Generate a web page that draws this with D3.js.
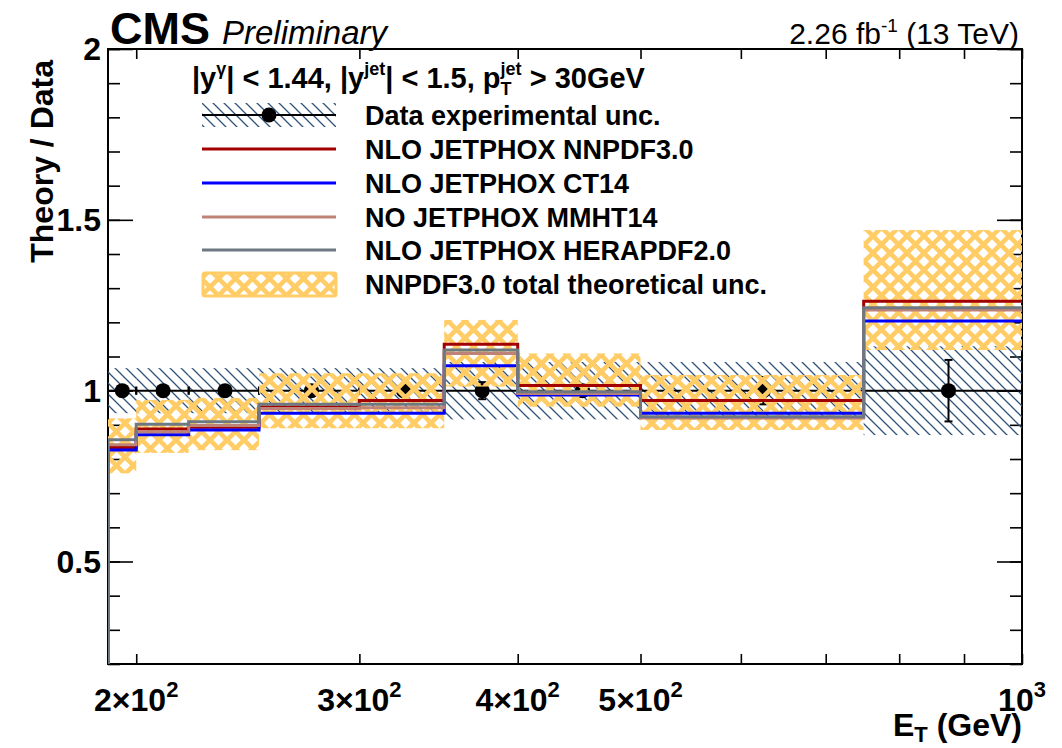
<!DOCTYPE html>
<html>
<head>
<meta charset="utf-8">
<script src="https://cdn.jsdelivr.net/npm/d3@7"></script>
<style>
  html, body { margin: 0; padding: 0; background: #ffffff; }
  svg { display: block; font-family: "Liberation Sans", Arial, Helvetica, sans-serif; }
</style>
</head>
<body>
<svg id="chart" width="1062" height="748"></svg>
<script>
// ---- data: photon + jet cross section, theory / data ratio per E_T bin ----
const binEdges = [190, 200, 220, 250, 300, 350, 400, 500, 750, 1000];
const dataRatio = [1, 1, 1, 1, 1, 1, 1, 1, 1];
const dataStatErr = [0.005, 0.006, 0.008, 0.010, 0.012, 0.025, 0.015, 0.040, 0.090];
const dataExpUnc = [0.066, 0.066, 0.066, 0.066, 0.066, 0.084, 0.084, 0.084, 0.130];

const nnpdf30 = [0.834, 0.888, 0.893, 0.952, 0.971, 1.136, 1.015, 0.971, 1.262];
const ct14 = [0.826, 0.871, 0.885, 0.934, 0.934, 1.073, 0.987, 0.934, 1.204];
const mmht14 = [0.842, 0.880, 0.898, 0.948, 0.950, 1.109, 0.992, 0.920, 1.236];
const herapdf20 = [0.856, 0.902, 0.909, 0.960, 0.960, 1.119, 0.997, 0.924, 1.243];

const nnpdfUncLow = [0.758, 0.818, 0.826, 0.890, 0.890, 1.012, 0.953, 0.885, 1.119];
const nnpdfUncHigh = [0.919, 0.973, 0.979, 1.051, 1.051, 1.207, 1.109, 1.046, 1.470];

const xTickValues = [200, 300, 400, 500, 600, 700, 800, 900, 1000];
const xTickLabels = [
  { v: 200, mant: "2\u00d710", exp: "2" },
  { v: 300, mant: "3\u00d710", exp: "2" },
  { v: 400, mant: "4\u00d710", exp: "2" },
  { v: 500, mant: "5\u00d710", exp: "2" },
  { v: 1000, mant: "10", exp: "3" }
];
const yMajorTicks = [0.5, 1, 1.5, 2];
const yMinorTicks = d3.range(2, 21).map(d => d / 10);
const yTickLabels = ["0.5", "1", "1.5", "2"];

const theorySeries = [
  { name: "NLO JETPHOX NNPDF3.0", values: nnpdf30, color: "#a30000" },
  { name: "NLO JETPHOX CT14", values: ct14, color: "#0000ff" },
  { name: "NO JETPHOX MMHT14", values: mmht14, color: "#bf8276" },
  { name: "NLO JETPHOX HERAPDF2.0", values: herapdf20, color: "#6e7882" }
];

// ---- layout ----
const svg = d3.select("#chart");
const pL = 108, pR = 1022, pT = 49, pB = 664;
const x = d3.scaleLog().domain([190, 1000]).range([pL, pR]);
const y = d3.scaleLinear().domain([0.2, 2]).range([pB, pT]);
const bins = d3.range(binEdges.length - 1);

const defs = svg.append("defs");
defs.append("clipPath").attr("id", "plotClip")
  .append("rect").attr("x", pL).attr("y", pT)
  .attr("width", pR - pL).attr("height", pB - pT);

// diagonal hatch for the experimental uncertainty
const hp = 11;
defs.append("pattern").attr("id", "expHatch")
  .attr("patternUnits", "userSpaceOnUse").attr("width", hp).attr("height", hp)
  .append("path")
  .attr("d", `M-1,-1L${hp + 1},${hp + 1}M${hp - 1},-1L${hp + 1},1M-1,${hp - 1}L1,${hp + 1}`)
  .attr("stroke", "#2f537a").attr("stroke-width", 1.3).attr("fill", "none");

// cross hatch for the theory band
const cp = 17;
defs.append("pattern").attr("id", "theoCross")
  .attr("patternUnits", "userSpaceOnUse").attr("width", cp).attr("height", cp)
  .attr("x", pL).attr("y", pT)
  .append("path")
  .attr("d", `M-3,-3L${cp + 3},${cp + 3}M${cp + 3},-3L-3,${cp + 3}`)
  .attr("stroke", "#ffcc66").attr("stroke-width", 4.6).attr("fill", "none");

// ---- frame and axes ----
const axesG = svg.append("g");
axesG.append("rect").attr("x", pL).attr("y", pT)
  .attr("width", pR - pL).attr("height", pB - pT)
  .attr("fill", "none").attr("stroke", "#000").attr("stroke-width", 2);

function styleAxis(g) {
  g.select(".domain").remove();
  g.selectAll(".tick line").attr("stroke", "#000").attr("stroke-width", 1.6);
  g.selectAll(".tick text").remove();
}
axesG.append("g").attr("transform", `translate(0,${pB})`)
  .call(d3.axisBottom(x).tickValues(xTickValues).tickSize(-10).tickFormat(""))
  .call(styleAxis);
axesG.append("g").attr("transform", `translate(0,${pT})`)
  .call(d3.axisTop(x).tickValues(xTickValues).tickSize(-10).tickFormat(""))
  .call(styleAxis);
axesG.append("g").attr("transform", `translate(${pL},0)`)
  .call(d3.axisLeft(y).tickValues(yMinorTicks).tickSize(-12).tickFormat(""))
  .call(styleAxis);
axesG.append("g").attr("transform", `translate(${pL},0)`)
  .call(d3.axisLeft(y).tickValues(yMajorTicks).tickSize(-25).tickFormat(""))
  .call(styleAxis);
axesG.append("g").attr("transform", `translate(${pR},0)`)
  .call(d3.axisRight(y).tickValues(yMinorTicks).tickSize(-12).tickFormat(""))
  .call(styleAxis);
axesG.append("g").attr("transform", `translate(${pR},0)`)
  .call(d3.axisRight(y).tickValues(yMajorTicks).tickSize(-25).tickFormat(""))
  .call(styleAxis);

// tick labels
const labFont = 32;
xTickLabels.forEach(l => {
  const t = svg.append("text").attr("x", x(l.v)).attr("y", 711)
    .attr("text-anchor", "middle").style("font-weight", "bold").style("font-size", labFont + "px");
  t.append("tspan").text(l.mant);
  t.append("tspan").attr("dy", -14).style("font-size", "22px").text(l.exp);
});
yMajorTicks.forEach((v, i) => {
  svg.append("text").attr("x", 101).attr("y", y(v) + 11)
    .attr("text-anchor", "end").style("font-weight", "bold").style("font-size", labFont + "px")
    .text(yTickLabels[i]);
});

// axis titles
svg.append("text").attr("transform", "translate(53,60) rotate(-90)")
  .attr("text-anchor", "end").style("font-weight", "bold").style("font-size", "32px")
  .text("Theory / Data");
const xt = svg.append("text").attr("x", 1022).attr("y", 736).attr("text-anchor", "end")
  .style("font-weight", "bold").style("font-size", "32px");
xt.append("tspan").text("E");
xt.append("tspan").attr("dy", 6).style("font-size", "22px").text("T");
xt.append("tspan").attr("dy", -6).text(" (GeV)");

// ---- plot content ----
const plot = svg.append("g").attr("clip-path", "url(#plotClip)");

// experimental uncertainty boxes
plot.append("g").selectAll("rect").data(bins).join("rect")
  .attr("x", i => x(binEdges[i]))
  .attr("width", i => x(binEdges[i + 1]) - x(binEdges[i]))
  .attr("y", i => y(dataRatio[i] + dataExpUnc[i]))
  .attr("height", i => y(dataRatio[i] - dataExpUnc[i]) - y(dataRatio[i] + dataExpUnc[i]))
  .attr("fill", "url(#expHatch)");

// data points with error bars
const dataG = plot.append("g").attr("stroke", "#000").attr("stroke-width", 2);
const cap = 4;
bins.forEach(i => {
  const x0 = x(binEdges[i]), x1 = x(binEdges[i + 1]);
  const xc = x((binEdges[i] + binEdges[i + 1]) / 2);
  const yc = y(dataRatio[i]);
  const ylo = y(dataRatio[i] - dataStatErr[i]), yhi = y(dataRatio[i] + dataStatErr[i]);
  dataG.append("line").attr("x1", x0).attr("x2", x1).attr("y1", yc).attr("y2", yc);
  dataG.append("line").attr("x1", x0).attr("x2", x0).attr("y1", yc - cap).attr("y2", yc + cap);
  dataG.append("line").attr("x1", x1).attr("x2", x1).attr("y1", yc - cap).attr("y2", yc + cap);
  dataG.append("line").attr("x1", xc).attr("x2", xc).attr("y1", ylo).attr("y2", yhi);
  dataG.append("line").attr("x1", xc - cap).attr("x2", xc + cap).attr("y1", ylo).attr("y2", ylo);
  dataG.append("line").attr("x1", xc - cap).attr("x2", xc + cap).attr("y1", yhi).attr("y2", yhi);
  dataG.append("circle").attr("cx", xc).attr("cy", yc).attr("r", 7.5)
    .attr("fill", "#000").attr("stroke", "none");
});

// NNPDF3.0 theoretical uncertainty band
plot.append("g").selectAll("rect").data(bins).join("rect")
  .attr("x", i => x(binEdges[i]))
  .attr("width", i => x(binEdges[i + 1]) - x(binEdges[i]))
  .attr("y", i => y(nnpdfUncHigh[i]))
  .attr("height", i => y(nnpdfUncLow[i]) - y(nnpdfUncHigh[i]))
  .attr("fill", "url(#theoCross)");

// theory predictions as step histograms
const stepLine = d3.line().x(d => x(d[0])).y(d => y(d[1]));
theorySeries.forEach(s => {
  const pts = [[binEdges[0], 0.2]];
  bins.forEach(i => { pts.push([binEdges[i], s.values[i]]); pts.push([binEdges[i + 1], s.values[i]]); });
  plot.append("path").attr("d", stepLine(pts))
    .attr("fill", "none").attr("stroke", s.color).attr("stroke-width", 3);
});

// ---- legend ----
const lg = svg.append("g");
const headerY = 88;
(function header() {
  const t = lg.append("text").attr("x", 192).attr("y", headerY)
    .style("font-weight", "bold").style("font-size", "29px");
  t.append("tspan").text("|y");
  t.append("tspan").attr("dy", -13).style("font-size", "18px").text("\u03b3");
  t.append("tspan").attr("dy", 13).text("| < 1.44, |y");
  t.append("tspan").attr("dy", -13).style("font-size", "18px").text("jet");
  t.append("tspan").attr("dy", 13).text("| < 1.5, p");
  t.append("tspan").attr("dy", 7).style("font-size", "18px").text("T");
  t.append("tspan").attr("dx", -11).attr("dy", -20).style("font-size", "18px").text("jet");
  t.append("tspan").attr("dy", 13).text(" > 30GeV");
})();

const rowY = [115, 149, 183, 217, 250, 284];
const symX0 = 202, symX1 = 336, textX = 365;
const legendText = ["Data experimental unc."].concat(theorySeries.map(s => s.name), ["NNPDF3.0 total theoretical unc."]);

lg.append("rect").attr("x", symX0).attr("y", rowY[0] - 12).attr("width", symX1 - symX0).attr("height", 24)
  .attr("fill", "url(#expHatch)");
lg.append("line").attr("x1", symX0).attr("x2", symX1).attr("y1", rowY[0]).attr("y2", rowY[0])
  .attr("stroke", "#000").attr("stroke-width", 2);
lg.append("circle").attr("cx", (symX0 + symX1) / 2).attr("cy", rowY[0]).attr("r", 7.5).attr("fill", "#000");

theorySeries.forEach((s, k) => {
  lg.append("line").attr("x1", symX0).attr("x2", symX1).attr("y1", rowY[k + 1]).attr("y2", rowY[k + 1])
    .attr("stroke", s.color).attr("stroke-width", 3);
});
lg.append("rect").attr("x", symX0 + 1).attr("y", rowY[5] - 11).attr("width", symX1 - symX0 - 1).attr("height", 23)
  .attr("rx", 2).attr("fill", "url(#theoCross)").attr("stroke", "#ffcc66").attr("stroke-width", 3);

legendText.forEach((txt, k) => {
  lg.append("text").attr("x", textX).attr("y", rowY[k] + 10)
    .style("font-weight", "bold").style("font-size", "27px").text(txt);
});

// ---- header labels ----
svg.append("text").attr("x", 110).attr("y", 44).style("font-weight", "bold").style("font-size", "45px").text("CMS");
svg.append("text").attr("x", 222).attr("y", 44).style("font-style", "italic").style("font-size", "33px").text("Preliminary");
const lumi = svg.append("text").attr("x", 1019).attr("y", 44).attr("text-anchor", "end").style("font-size", "30px");
lumi.append("tspan").text("2.26 fb");
lumi.append("tspan").attr("dy", -12).style("font-size", "19px").text("-1");
lumi.append("tspan").attr("dy", 12).text(" (13 TeV)");
</script>
</body>
</html>
